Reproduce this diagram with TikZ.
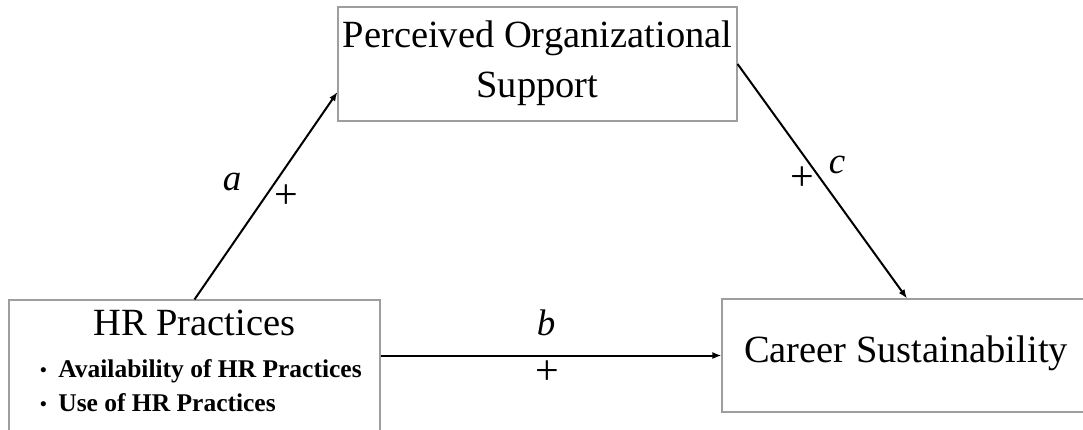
\documentclass[tikz,border=0pt]{standalone}
\usepackage{fontspec}
\setmainfont{Liberation Serif}
\usetikzlibrary{arrows.meta}
\newcommand{\smallbullet}{{\fontsize{19}{19}\selectfont\raisebox{1pt}{•}}}
\begin{document}
\begin{tikzpicture}[x=1pt,y=-1pt,
  box/.style={draw=black!38, line width=1.1pt, inner sep=0pt},
  big/.style={font=\fontsize{38.5}{51}\selectfont, inner sep=0pt, anchor=base},
  small/.style={font=\bfseries\fontsize{25.5}{34}\selectfont, inner sep=0pt, anchor=base west},
  lab/.style={font=\fontsize{37}{37}\selectfont, inner sep=0pt},
  plus/.style={font=\fontsize{42}{42}\selectfont, inner sep=0pt},
  arr/.style={line width=2pt, -{Latex[length=9pt,width=7pt]}}]
\useasboundingbox (0,0) rectangle (1083,429);
\clip (0,0) rectangle (1083,429);
\fill[white] (0,0) rectangle (1083,429);
\node[box, minimum width=399pt, minimum height=114pt] (pos) at (537.5,64) {};
\node[box, minimum width=371pt, minimum height=200pt] (hr) at (194.5,400) {};
\node[box, minimum width=370pt, minimum height=113pt] (cs) at (907,355.5) {};
\node[big] (pos1) at (537.5,47) {Perceived Organizational};
\node[big] (pos2) at (537.5,97) {Support};
\node[big] (hrt) at (194.5,335) {HR Practices};
\node[small] (hr1) at (40,377) {\smallbullet\hspace{11.5pt}Availability of HR Practices};
\node[small] (hr2) at (40,411) {\smallbullet\hspace{11.5pt}Use of HR Practices};
\node[big] (cst) at (906,362) {Career Sustainability};
\draw[arr] (hr.north) -- ([yshift=-28pt]pos.west);
\draw[arr] (pos.east) -- (cs.north);
\draw[arr] (hr.east |- cs.west) -- (cs.west);
\node[lab] (la) at (232,182) {\itshape a};
\node[plus] (pa) at (286,197) {+};
\node[lab] (lc) at (837,165) {\itshape c};
\node[plus] (pc) at (802,179) {+};
\node[lab] (lb) at (546,323) {\itshape b};
\node[plus] (pb) at (547,373) {+};
\end{tikzpicture}
\end{document}
